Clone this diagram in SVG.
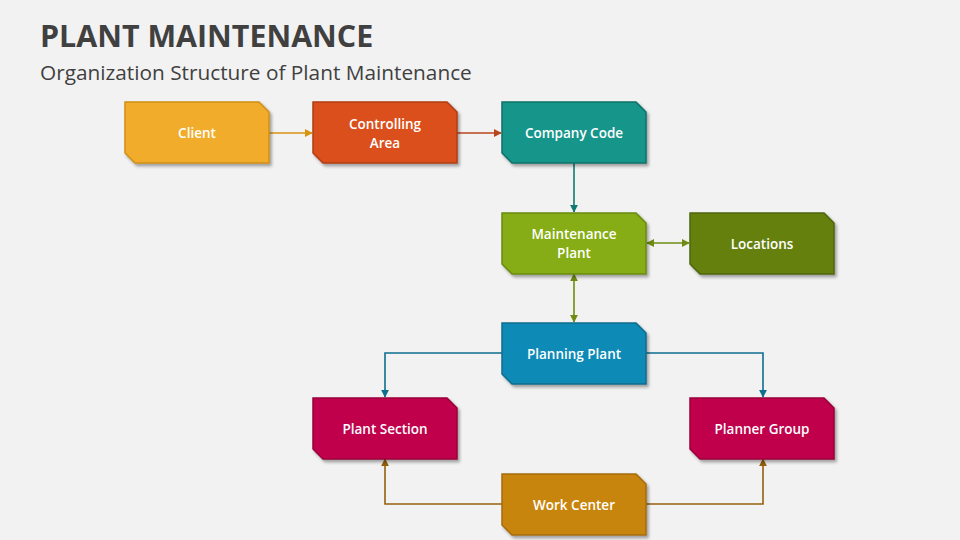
<svg xmlns="http://www.w3.org/2000/svg" width="960" height="540" viewBox="0 0 960 540">
<defs>
<style>
.t{font-family:"Open Sans","Liberation Sans",sans-serif;fill:#404040}
.lbl{font-family:"Open Sans","Liberation Sans",sans-serif;font-size:13.5px;font-weight:600;fill:#ffffff;text-anchor:middle}
.box{stroke-width:1.5}
.c{fill:none;stroke-width:1.6}
</style>
<filter id="sh" x="-10%" y="-10%" width="130%" height="140%">
<feDropShadow dx="2" dy="2.5" stdDeviation="1.8" flood-color="#000" flood-opacity="0.35"/>
</filter>
<path id="shape" d="M0,0 H134 L144,10 V61 H10 L0,51 Z"/>
<marker id="aOr" viewBox="0 0 10 10" refX="9" refY="5" markerWidth="8" markerHeight="8" markerUnits="userSpaceOnUse" orient="auto-start-reverse"><path d="M0,0 L10,5 L0,10 Z" fill="#D9930F"/></marker>
<marker id="aRd" viewBox="0 0 10 10" refX="9" refY="5" markerWidth="8" markerHeight="8" markerUnits="userSpaceOnUse" orient="auto-start-reverse"><path d="M0,0 L10,5 L0,10 Z" fill="#B8461D"/></marker>
<marker id="aTl" viewBox="0 0 10 10" refX="9" refY="5" markerWidth="8" markerHeight="8" markerUnits="userSpaceOnUse" orient="auto-start-reverse"><path d="M0,0 L10,5 L0,10 Z" fill="#107A72"/></marker>
<marker id="aGr" viewBox="0 0 10 10" refX="9" refY="5" markerWidth="8" markerHeight="8" markerUnits="userSpaceOnUse" orient="auto-start-reverse"><path d="M0,0 L10,5 L0,10 Z" fill="#6E8C12"/></marker>
<marker id="aBl" viewBox="0 0 10 10" refX="9" refY="5" markerWidth="8" markerHeight="8" markerUnits="userSpaceOnUse" orient="auto-start-reverse"><path d="M0,0 L10,5 L0,10 Z" fill="#0E6E90"/></marker>
<marker id="aBr" viewBox="0 0 10 10" refX="9" refY="5" markerWidth="8" markerHeight="8" markerUnits="userSpaceOnUse" orient="auto-start-reverse"><path d="M0,0 L10,5 L0,10 Z" fill="#94600E"/></marker>
</defs>
<rect width="960" height="540" fill="#F2F2F2"/>
<text class="t" x="40" y="47" font-size="30.4" font-weight="700">PLANT MAINTENANCE</text>
<text class="t" x="40" y="80" font-size="20.8">Organization Structure of Plant Maintenance</text>

<g id="connectors">
<path class="c" d="M268,133 H312" stroke="#D9930F" marker-end="url(#aOr)"/>
<path class="c" d="M457,133 H501" stroke="#B8461D" marker-end="url(#aRd)"/>
<path class="c" d="M574,163 V212" stroke="#107A72" marker-end="url(#aTl)"/>
<path class="c" d="M647,243 H689" stroke="#6E8C12" marker-start="url(#aGr)" marker-end="url(#aGr)"/>
<path class="c" d="M574,274 V322" stroke="#6E8C12" marker-start="url(#aGr)" marker-end="url(#aGr)"/>
<path class="c" d="M502,353 H385 V397" stroke="#0E6E90" marker-end="url(#aBl)"/>
<path class="c" d="M646,353 H763 V397" stroke="#0E6E90" marker-end="url(#aBl)"/>
<path class="c" d="M502,504 H385 V459" stroke="#94600E" marker-end="url(#aBr)"/>
<path class="c" d="M646,504 H763 V459" stroke="#94600E" marker-end="url(#aBr)"/>
</g>

<g id="client" transform="translate(125,102)">
<use href="#shape" class="box" fill="#F0AC2A" stroke="#D18F16" filter="url(#sh)"/>
<text class="lbl" x="72" y="36">Client</text>
</g>
<g id="controlling-area" transform="translate(313,102)">
<use href="#shape" class="box" fill="#DA4F1E" stroke="#B03E14" filter="url(#sh)"/>
<text class="lbl" x="72" y="27">Controlling</text>
<text class="lbl" x="72" y="46">Area</text>
</g>
<g id="company-code" transform="translate(502,102)">
<use href="#shape" class="box" fill="#13968B" stroke="#0E7168" filter="url(#sh)"/>
<text class="lbl" x="72" y="36">Company Code</text>
</g>
<g id="maintenance-plant" transform="translate(502,213)">
<use href="#shape" class="box" fill="#86AD12" stroke="#6A8A0E" filter="url(#sh)"/>
<text class="lbl" x="72" y="26">Maintenance</text>
<text class="lbl" x="72" y="45">Plant</text>
</g>
<g id="locations" transform="translate(690,213)">
<use href="#shape" class="box" fill="#658011" stroke="#4F650C" filter="url(#sh)"/>
<text class="lbl" x="72" y="36">Locations</text>
</g>
<g id="planning-plant" transform="translate(502,323)">
<use href="#shape" class="box" fill="#0E8AB6" stroke="#0A6C8E" filter="url(#sh)"/>
<text class="lbl" x="72" y="36">Planning Plant</text>
</g>
<g id="plant-section" transform="translate(313,398)">
<use href="#shape" class="box" fill="#C0064B" stroke="#99043B" filter="url(#sh)"/>
<text class="lbl" x="72" y="36">Plant Section</text>
</g>
<g id="planner-group" transform="translate(690,398)">
<use href="#shape" class="box" fill="#C0064B" stroke="#99043B" filter="url(#sh)"/>
<text class="lbl" x="72" y="36">Planner Group</text>
</g>
<g id="work-center" transform="translate(502,474)">
<use href="#shape" class="box" fill="#C8850F" stroke="#A56C0B" filter="url(#sh)"/>
<text class="lbl" x="72" y="36">Work Center</text>
</g>
</svg>
